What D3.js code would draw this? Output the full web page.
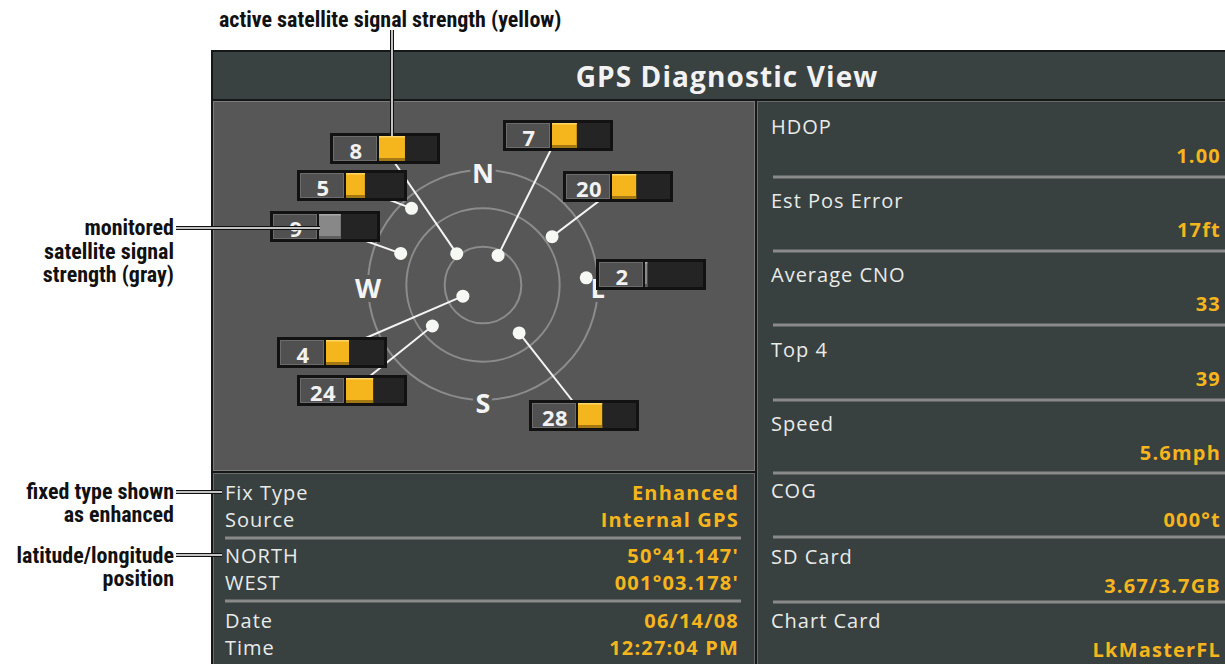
<!DOCTYPE html>
<html lang="en">
<head>
    <meta charset="UTF-8">
    <title>GPS Diagnostic View</title>
    <script src="https://d3js.org/d3.v7.min.js"></script>
    <style>
        body { margin: 0; background: #fff; }
        svg { display: block; }
        .screen { font-family: "Open Sans", "DejaVu Sans", sans-serif; }
        .note { font-family: "Liberation Sans Narrow", "Roboto Condensed", Roboto, sans-serif; font-weight: bold; fill: #111; }
    </style>
</head>
<body>
<svg id="view" width="1225" height="664"></svg>
<script>
    // Satellites shown on the sky plot
    const satIds       = [8, 5, 9, 7, 20, 2, 4, 24, 28];
    const satElevation = [58, 8, 21, 64, 24, 9, 72, 39, 43];     // degrees above horizon
    const satAzimuth   = [320, 317, 291, 27, 55, 86, 241, 231, 143]; // degrees from north
    const satSignal    = [44, 32, 37, 42, 41, 4, 39, 46, 41];     // signal strength 0-100
    const satActive    = [true, true, false, true, true, false, true, true, true];

    const ringElevations = [60, 30, 0];
    const compass = [["N", 0], ["E", 90], ["S", 180], ["W", 270]];

    // Lower left info block
    const infoLabels = ["Fix Type", "Source", "NORTH", "WEST", "Date", "Time"];
    const infoValues = ["Enhanced", "Internal GPS", "50°41.147'", "001°03.178'", "06/14/08", "12:27:04 PM"];

    // Right column
    const statLabels = ["HDOP", "Est Pos Error", "Average CNO", "Top 4", "Speed", "COG", "SD Card", "Chart Card"];
    const statValues = ["1.00", "17ft", "33", "39", "5.6mph", "000°t", "3.67/3.7GB", "LkMasterFL"];

    // label box placement (top-left) for each satellite id
    const labelAt = {
        8: [330, 133], 5: [297, 170], 9: [270, 211], 7: [503, 120], 20: [563, 171],
        2: [596, 259], 4: [277, 337], 24: [297, 375], 28: [529, 400]
    };

    const svg = d3.select('#view');
    const yellow = '#f5b51c';
    const panelFill = '#384040';

    // frame
    svg.append('rect').attr('x', 211).attr('y', 50).attr('width', 1014).attr('height', 614).attr('fill', '#161818');
    svg.append('rect').attr('x', 213).attr('y', 52).attr('width', 1012).attr('height', 47).attr('fill', '#3a4141');
    svg.append('text').attr('class', 'screen')
        .attr('x', 727).attr('y', 76).attr('text-anchor', 'middle').attr('dominant-baseline', 'central')
        .attr('font-size', 28).attr('font-weight', 'bold').attr('fill', '#f2f2f2')
        .attr('letter-spacing', 1.1)
        .text('GPS Diagnostic View');

    svg.append('rect').attr('x', 213.5).attr('y', 101.5).attr('width', 541).attr('height', 369)
        .attr('fill', '#575757').attr('stroke', '#7a7a7a');
    svg.append('rect').attr('x', 213.5).attr('y', 473.5).attr('width', 541).attr('height', 192)
        .attr('fill', panelFill).attr('stroke', '#6a6a6a');
    svg.append('rect').attr('x', 757.5).attr('y', 101.5).attr('width', 469).attr('height', 564)
        .attr('fill', panelFill).attr('stroke', '#6a6a6a');

    // sky plot
    const cx = 483, cy = 285;
    const r = d3.scaleLinear().domain([90, 0]).range([0, 115]);
    const sky = svg.append('g').attr('transform', `translate(${cx},${cy})`);

    sky.selectAll('circle.ring').data(ringElevations).join('circle')
        .attr('class', 'ring').attr('r', d => r(d))
        .attr('fill', 'none').attr('stroke', '#8c8c8c').attr('stroke-width', 2);

    const polar = (el, az) => {
        const a = az * Math.PI / 180;
        return [r(el) * Math.sin(a), -r(el) * Math.cos(a)];
    };

    sky.selectAll('text.dir').data(compass).join('text')
        .attr('class', 'dir screen')
        .attr('x', d => polar(0, d[1])[0]).attr('y', d => polar(0, d[1])[1] + 2)
        .attr('text-anchor', 'middle').attr('dominant-baseline', 'central')
        .attr('font-size', 27).attr('font-weight', 'bold').attr('fill', '#f4f4f4')
        .attr('stroke', '#575757').attr('stroke-width', 8).attr('paint-order', 'stroke')
        .text(d => d[0]);

    const sats = satIds.map((id, i) => {
        const p = polar(satElevation[i], satAzimuth[i]);
        return { id, x: cx + p[0], y: cy + p[1], signal: satSignal[i], active: satActive[i], box: labelAt[id] };
    });

    const boxW = 110, boxH = 31;
    const bar = d3.scaleLinear().domain([0, 100]).range([0, 59]);

    // leader lines to box centres (boxes cover the ends)
    svg.selectAll('line.leader').data(sats.filter(d => d.id !== 2)).join('line')
        .attr('x1', d => d.x).attr('y1', d => d.y)
        .attr('x2', d => d.box[0] + boxW / 2).attr('y2', d => d.box[1] + boxH / 2)
        .attr('stroke', '#f4f4f4').attr('stroke-width', 2);

    svg.selectAll('circle.sat').data(sats).join('circle')
        .attr('cx', d => d.x).attr('cy', d => d.y).attr('r', 6.5).attr('fill', '#f6f8f4');

    const boxes = svg.selectAll('g.sbox').data(sats).join('g')
        .attr('transform', d => `translate(${d.box[0]},${d.box[1]})`);
    boxes.append('rect').attr('width', boxW).attr('height', boxH).attr('fill', '#121212');
    boxes.append('rect').attr('x', 49).attr('y', 3).attr('width', 58).attr('height', 25).attr('fill', '#242424');
    boxes.append('rect').attr('x', 3.5).attr('y', 3.5).attr('width', 43).attr('height', 24)
        .attr('fill', '#505050').attr('stroke', '#6c6c6c');
    boxes.append('text').attr('class', 'screen')
        .attr('x', 26).attr('y', 16.5).attr('text-anchor', 'middle').attr('dominant-baseline', 'central')
        .attr('font-size', 22).attr('font-weight', 'bold').attr('fill', '#f2f2f2')
        .attr('letter-spacing', 0.5)
        .text(d => d.id);
    boxes.append('rect').attr('x', 49).attr('y', 3).attr('height', 25)
        .attr('width', d => bar(d.signal))
        .attr('fill', d => d.active ? yellow : '#888');
    boxes.append('rect').attr('x', 49).attr('y', 25).attr('height', 3)
        .attr('width', d => bar(d.signal))
        .attr('fill', d => d.active ? '#a47812' : '#5e5e5e');
    boxes.append('rect').attr('x', 49).attr('y', 3).attr('height', 1.5)
        .attr('width', d => bar(d.signal))
        .attr('fill', d => d.active ? '#ffd766' : '#a8a8a8');

    // info block
    const infoY = [492, 519, 555, 582, 620, 647];
    svg.selectAll('text.il').data(infoLabels).join('text')
        .attr('class', 'il screen').attr('x', 225).attr('y', (d, i) => infoY[i])
        .attr('dominant-baseline', 'central').attr('font-size', 20).attr('fill', '#e8ebe8')
        .attr('letter-spacing', 1).text(d => d);
    svg.selectAll('text.iv').data(infoValues).join('text')
        .attr('class', 'iv screen').attr('x', 739).attr('y', (d, i) => infoY[i])
        .attr('text-anchor', 'end').attr('dominant-baseline', 'central')
        .attr('font-size', 20).attr('font-weight', 'bold').attr('fill', yellow)
        .attr('letter-spacing', 1.2).text(d => d);
    svg.selectAll('line.isep').data([538, 601]).join('line')
        .attr('x1', 225).attr('x2', 741).attr('y1', d => d).attr('y2', d => d)
        .attr('stroke', '#8a8a8a').attr('stroke-width', 3);

    // right column
    const statY = [126, 200, 274, 349, 423, 490, 556, 620];
    svg.selectAll('text.sl').data(statLabels).join('text')
        .attr('class', 'sl screen').attr('x', 771).attr('y', (d, i) => statY[i])
        .attr('dominant-baseline', 'central').attr('font-size', 20).attr('fill', '#e8ebe8')
        .attr('letter-spacing', 1).text(d => d);
    svg.selectAll('text.sv').data(statValues).join('text')
        .attr('class', 'sv screen').attr('x', 1221).attr('y', (d, i) => statY[i] + 29)
        .attr('text-anchor', 'end').attr('dominant-baseline', 'central')
        .attr('font-size', 20).attr('font-weight', 'bold').attr('fill', yellow)
        .attr('letter-spacing', 1.2).text(d => d);
    svg.selectAll('line.ssep').data([177, 251, 325, 400, 473, 537, 602]).join('line')
        .attr('x1', 773).attr('x2', 1225).attr('y1', d => d).attr('y2', d => d)
        .attr('stroke', '#8a8a8a').attr('stroke-width', 3);

    // callouts
    const callLines = [
        [392, 30, 392, 136],
        [176, 228, 320, 228],
        [176, 492, 222, 492],
        [176, 555, 222, 555]
    ];
    callLines.forEach(c => {
        svg.append('line').attr('x1', c[0]).attr('y1', c[1]).attr('x2', c[2]).attr('y2', c[3])
            .attr('stroke', '#111').attr('stroke-width', 4);
        svg.append('line').attr('x1', c[0]).attr('y1', c[1]).attr('x2', c[2]).attr('y2', c[3])
            .attr('stroke', '#fff').attr('stroke-width', 1.5);
    });

    svg.append('text').attr('class', 'note').attr('x', 219).attr('y', 19)
        .attr('dominant-baseline', 'central').attr('font-size', 22)
        .text('active satellite signal strength (yellow)');

    const notes = [
        ['monitored', 227], ['satellite signal', 251], ['strength (gray)', 274],
        ['fixed type shown', 491], ['as enhanced', 514],
        ['latitude/longitude', 555], ['position', 578]
    ];
    svg.selectAll('text.side').data(notes).join('text')
        .attr('class', 'side note').attr('x', 174).attr('y', d => d[1])
        .attr('text-anchor', 'end').attr('dominant-baseline', 'central').attr('font-size', 22)
        .text(d => d[0]);
</script>
</body>
</html>
